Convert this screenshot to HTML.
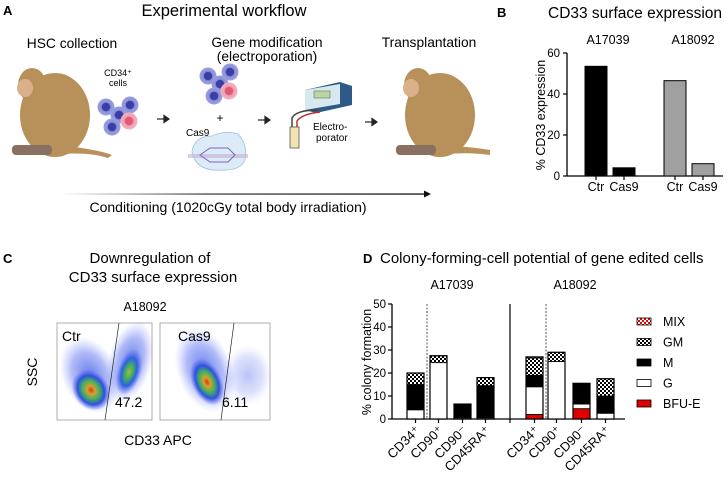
<!DOCTYPE html>
<html><head><meta charset="utf-8"><style>
html,body{margin:0;padding:0;background:#fff}
svg{display:block;font-family:"Liberation Sans",Arial,sans-serif}
</style></head><body>
<svg id="fig" width="726" height="480" viewBox="0 0 726 480" xmlns="http://www.w3.org/2000/svg">
<defs>
<pattern id="chk" width="4" height="4" patternUnits="userSpaceOnUse"><rect width="4" height="4" fill="#000"/><rect width="2" height="2" fill="#fff"/><rect x="2" y="2" width="2" height="2" fill="#fff"/></pattern>
<pattern id="chkr" width="4" height="4" patternUnits="userSpaceOnUse"><rect width="4" height="4" fill="#e00"/><rect width="2" height="2" fill="#fff"/><rect x="2" y="2" width="2" height="2" fill="#fff"/></pattern>
<radialGradient id="dens"><stop offset="0" stop-color="#d04010"/><stop offset="0.2" stop-color="#d8a030"/><stop offset="0.45" stop-color="#40b060"/><stop offset="0.7" stop-color="#3050e0"/><stop offset="1" stop-color="#6070f0" stop-opacity="0"/></radialGradient>
<radialGradient id="dens2"><stop offset="0" stop-color="#b0b040"/><stop offset="0.3" stop-color="#40b060"/><stop offset="0.6" stop-color="#3060e0"/><stop offset="1" stop-color="#6070f0" stop-opacity="0"/></radialGradient>
<radialGradient id="dens3"><stop offset="0" stop-color="#3050e0" stop-opacity="0.75"/><stop offset="0.6" stop-color="#5068f0" stop-opacity="0.45"/><stop offset="1" stop-color="#8090f8" stop-opacity="0"/></radialGradient>
<radialGradient id="cellB"><stop offset="0.45" stop-color="#3a3fa8"/><stop offset="0.55" stop-color="#8a90d8"/><stop offset="1" stop-color="#9aa0e0"/></radialGradient>
<radialGradient id="cellR"><stop offset="0.45" stop-color="#e05a78"/><stop offset="0.55" stop-color="#f0a0b0"/><stop offset="1" stop-color="#f4b0c0"/></radialGradient>
<linearGradient id="arrg" gradientUnits="userSpaceOnUse" x1="60" y1="0" x2="430" y2="0"><stop offset="0" stop-color="#fff"/><stop offset="0.4" stop-color="#444"/><stop offset="1" stop-color="#111"/></linearGradient>
</defs>

<!-- PANEL A -->
<g>
<text x="3" y="15" font-size="13" font-weight="bold">A</text>
<text x="224" y="16" font-size="16.5" text-anchor="middle">Experimental workflow</text>
<text x="72" y="48" font-size="13.8" text-anchor="middle">HSC collection</text>
<text x="267" y="47" font-size="13.8" text-anchor="middle">Gene modification</text>
<text x="267" y="61" font-size="13.8" text-anchor="middle">(electroporation)</text>
<text x="429" y="47" font-size="13.8" text-anchor="middle">Transplantation</text>
<g fill="#b8915a">
<ellipse cx="55" cy="115" rx="35" ry="42"/><ellipse cx="32" cy="85" rx="14" ry="17"/><ellipse cx="25" cy="88" rx="8" ry="9" fill="#d9b08a"/>
<path d="M60 145 Q100 150 112 155 L108 158 Q90 152 60 154 Z"/><rect x="12" y="145" width="40" height="10" rx="4" fill="#8a7060"/>
</g>
<g fill="#b8915a">
<ellipse cx="440" cy="115" rx="35" ry="42"/><ellipse cx="418" cy="85" rx="14" ry="17"/><ellipse cx="411" cy="88" rx="8" ry="9" fill="#d9b08a"/>
<path d="M445 145 Q480 148 490 150 L490 155 Q470 152 445 154 Z"/><rect x="396" y="145" width="40" height="10" rx="4" fill="#8a7060"/>
</g>
<text x="118" y="76" font-size="9" text-anchor="middle">CD34⁺</text>
<text x="118" y="86" font-size="9" text-anchor="middle">cells</text>
<g>
<circle cx="106" cy="107" r="8.5" fill="url(#cellB)"/><circle cx="130" cy="105" r="8.5" fill="url(#cellB)"/><circle cx="119" cy="115" r="8.5" fill="url(#cellB)"/><circle cx="112" cy="127" r="8.5" fill="url(#cellB)"/><circle cx="129" cy="121" r="8.5" fill="url(#cellR)"/>
</g>
<g>
<circle cx="208" cy="76" r="8.5" fill="url(#cellB)"/><circle cx="230" cy="72" r="8.5" fill="url(#cellB)"/><circle cx="220" cy="84" r="8.5" fill="url(#cellB)"/><circle cx="214" cy="96" r="8.5" fill="url(#cellB)"/><circle cx="229" cy="91" r="8.5" fill="url(#cellR)"/>
</g>
<text x="220" y="122" font-size="12" text-anchor="middle">+</text>
<path d="M192 152 Q194 136 212 136 Q225 130 238 134 Q248 145 245 160 Q240 171 222 170 Q196 172 192 152Z" fill="#dcebf8" stroke="#9cc0e0" stroke-width="0.8"/>
<rect x="188" y="154" width="60" height="4" fill="#c8b8d8" opacity="0.7"/>
<path d="M200 155 L210 148 L228 148 L235 155 L228 162 L210 162Z" fill="none" stroke="#8060c0" stroke-width="1"/>
<text x="186" y="136" font-size="10">Cas9</text>
<g stroke="#222" stroke-width="1.2">
<line x1="157" y1="119" x2="166" y2="119"/><path d="M164 115.5 L169 119 L164 122.5Z" fill="#222"/>
<line x1="258" y1="120" x2="267" y2="120"/><path d="M265 116.5 L270 120 L265 123.5Z" fill="#222"/>
<line x1="365" y1="122" x2="374" y2="122"/><path d="M372 118.5 L377 122 L372 125.5Z" fill="#222"/>
</g>
<g>
<path d="M305 90 L340 82 L352 86 L352 105 L316 113 L305 110Z" fill="#2d5a86"/>
<path d="M305 90 L340 84 L340 104 L305 110Z" fill="#d8e8f0"/><rect x="314" y="91" width="16" height="7" fill="#b8d8a0" stroke="#555" stroke-width="0.5"/>
<path d="M292 148 L292 118 Q296 110 318 110" fill="none" stroke="#444" stroke-width="1.5"/>
<path d="M297 148 L297 121 Q302 114 320 112" fill="none" stroke="#c03030" stroke-width="1.5"/>
<rect x="290" y="127" width="9" height="21" fill="#f2e4b0" stroke="#555" stroke-width="0.8"/>
</g>
<text x="313" y="130" font-size="10">Electro-</text>
<text x="316" y="141" font-size="10">porator</text>
<rect x="60" y="193.4" width="366" height="1.3" fill="url(#arrg)"/>
<path d="M424 190.5 L431 194 L424 197.5Z" fill="#111"/>
<text x="228" y="212" font-size="14" text-anchor="middle">Conditioning (1020cGy total body irradiation)</text>
</g>

<!-- PANEL B -->
<g>
<text x="497" y="17" font-size="13" font-weight="bold">B</text>
<text x="548" y="18" font-size="15.5">CD33 surface expression</text>
<text x="608" y="44" font-size="12.5" text-anchor="middle">A17039</text>
<text x="693" y="44" font-size="12.5" text-anchor="middle">A18092</text>
<text transform="translate(545,115) rotate(-90)" font-size="12.5" text-anchor="middle">% CD33 expression</text>
<g id="bAxis"></g><g id="bBars"></g>
</g>

<!-- PANEL C -->
<g>
<text x="3" y="263" font-size="13" font-weight="bold">C</text>
<text x="150" y="263" font-size="15" text-anchor="middle">Downregulation of</text>
<text x="153" y="282" font-size="15" text-anchor="middle">CD33 surface expression</text>
<text x="145" y="311" font-size="12.5" text-anchor="middle">A18092</text>
<text transform="translate(37,372) rotate(-90)" font-size="14" text-anchor="middle">SSC</text>
<text x="158" y="445" font-size="14" text-anchor="middle">CD33 APC</text>
<g>
<rect x="57" y="323" width="95" height="97" fill="#fff" stroke="#999" stroke-width="0.8"/>
<ellipse cx="90" cy="375" rx="28" ry="40" fill="url(#dens3)" transform="rotate(-25 90 375)"/>
<ellipse cx="91" cy="390" rx="18" ry="22" fill="url(#dens)" transform="rotate(-35 91 390)"/>
<ellipse cx="130" cy="362" rx="22" ry="42" fill="url(#dens3)" transform="rotate(15 130 362)"/>
<ellipse cx="129" cy="372" rx="12" ry="24" fill="url(#dens2)" transform="rotate(18 129 372)"/>
<line x1="119" y1="323" x2="105" y2="420" stroke="#222" stroke-width="0.7"/>
<text x="62" y="341" font-size="14">Ctr</text>
<text x="115" y="407" font-size="14">47.2</text>
</g>
<g>
<rect x="160" y="323" width="110" height="97" fill="#fff" stroke="#999" stroke-width="0.8"/>
<ellipse cx="205" cy="370" rx="28" ry="44" fill="url(#dens3)" transform="rotate(-20 205 370)"/>
<ellipse cx="207" cy="382" rx="15" ry="25" fill="url(#dens)" transform="rotate(-25 207 382)"/>
<ellipse cx="248" cy="375" rx="24" ry="30" fill="url(#dens3)" opacity="0.45"/>
<line x1="234" y1="323" x2="221" y2="420" stroke="#222" stroke-width="0.7"/>
<text x="178" y="341" font-size="14">Cas9</text>
<text x="222" y="407" font-size="14">6.11</text>
</g>
</g>

<!-- PANEL D -->
<g>
<text x="363" y="263" font-size="13" font-weight="bold">D</text>
<text x="380" y="263" font-size="15">Colony-forming-cell potential of gene edited cells</text>
<text x="452" y="289" font-size="12.5" text-anchor="middle">A17039</text>
<text x="575" y="289" font-size="12.5" text-anchor="middle">A18092</text>
<text transform="translate(371,362) rotate(-90)" font-size="12.5" text-anchor="middle">% colony formation</text>
<g id="dAxis"></g><g id="dBars"></g><g id="dLegend"></g>
</g>
</svg>
<script>
const NS='http://www.w3.org/2000/svg';
function mk(p,t,a){const e=document.createElementNS(NS,t);for(const k in a)e.setAttribute(k,a[k]);p.appendChild(e);return e;}

// ---- Panel B data
const bCats=['Ctr','Cas9','Ctr','Cas9'];
const bVals=[53.5,4,46.5,6];
const bColors=['#000','#000','#a0a0a0','#a0a0a0'];
const bTicks=[0,20,40,60];
const bX0=[585,613,664,692];
const bY=v=>176-v*(123/60);
(function(){
 const ax=document.getElementById('bAxis'),bg=document.getElementById('bBars');
 let l=mk(ax,'line',{x1:567,y1:53,x2:567,y2:176,stroke:'#000','stroke-width':1.3});
 
 
 let xl=mk(ax,'line',{x1:567,y1:176,x2:723,y2:176,stroke:'#000','stroke-width':1.3});
 
 
 bTicks.forEach(t=>{const y=bY(t);mk(ax,'line',{x1:563,y1:y,x2:567,y2:y,stroke:'#000','stroke-width':1.2});
  const tx=mk(ax,'text',{x:560,y:y+4,'font-size':11.5,'text-anchor':'end'});tx.textContent=t;
  
  });
 bVals.forEach((v,i)=>{const x=bX0[i];
  const r=mk(bg,'rect',{x:x,y:bY(v),width:22,height:176-bY(v),fill:bColors[i],stroke:'#000','stroke-width':1});
  
  
  mk(ax,'line',{x1:x+11,y1:176,x2:x+11,y2:180,stroke:'#000','stroke-width':1.2});
  const tx=mk(ax,'text',{x:x+11,y:191,'font-size':12.5,'text-anchor':'middle'});tx.textContent=bCats[i];
  
  });
})();

// ---- Panel D data
const dCats=['CD34⁺','CD90⁺','CD90⁻','CD45RA⁺','CD34⁺','CD90⁺','CD90⁻','CD45RA⁺'];
const dBFUE=[0,0,0,0,2,0,4.5,0];
const dG=[4,24.5,0.5,0.5,12,25,2,2.5];
const dM=[11,0,6,14,5,0,9,7.5];
const dGM=[5,3,0,3.5,7.5,4,0,7.5];
const dMIX=[0,0,0,0,0.5,0,0,0];
const dTicks=[0,10,20,30,40,50];
const dX0=[407,430,454,477,526,548,573,597];
const dY=v=>419-v*2.3;
(function(){
 const ax=document.getElementById('dAxis'),bg=document.getElementById('dBars'),lg=document.getElementById('dLegend');
 let l=mk(ax,'line',{x1:392,y1:304,x2:392,y2:419,stroke:'#000','stroke-width':1.3});
 
 
 let xl=mk(ax,'line',{x1:392,y1:419,x2:625,y2:419,stroke:'#000','stroke-width':1.3});
 
 
 let sp=mk(ax,'line',{x1:510,y1:304,x2:510,y2:423,stroke:'#000','stroke-width':1.2});
 
 
 [427,546].forEach(x=>{const d=mk(ax,'line',{x1:x,y1:304,x2:x,y2:419,stroke:'#555','stroke-width':1,'stroke-dasharray':'2,1.5'});
  
  });
 dTicks.forEach(t=>{const y=dY(t);mk(ax,'line',{x1:388,y1:y,x2:392,y2:y,stroke:'#000','stroke-width':1.2});
  const tx=mk(ax,'text',{x:386,y:y+4,'font-size':11.5,'text-anchor':'end'});tx.textContent=t;
  
  });
 const series=[[dBFUE,'#e00000'],[dG,'#fff'],[dM,'#000'],[dGM,'url(#chk)'],[dMIX,'url(#chkr)']];
 dCats.forEach((c,i)=>{const x=dX0[i];let base=0;
  series.forEach(([arr,fill],s)=>{const v=arr[i];if(v<=0)return;
   const r=mk(bg,'rect',{x:x,y:dY(base+v),width:17,height:v*2.3,fill:fill,stroke:'#000','stroke-width':0.8});
   
   
   base+=v;});
  const ol=mk(bg,'rect',{x:x,y:dY(base),width:17,height:base*2.3,fill:'none',stroke:'#000','stroke-width':1.2});
  
  
  mk(ax,'line',{x1:x+8.5,y1:419,x2:x+8.5,y2:423,stroke:'#000','stroke-width':1.2});
  const tx=mk(ax,'text',{x:0,y:0,'font-size':13,'text-anchor':'end',transform:'translate('+(x+14)+',431) rotate(-45)'});tx.textContent=c;
  
  });
 const legN=['MIX','GM','M','G','BFU-E'],legF=['url(#chkr)','url(#chk)','#000','#fff','#e00000'];
 legN.forEach((n,i)=>{const y=318+i*20.5;
  const r=mk(lg,'rect',{x:637,y:y,width:14,height:7,fill:legF[i],stroke:'#000','stroke-width':0.8});
  
  
  const t=mk(lg,'text',{x:663,y:y+8,'font-size':12.5});t.textContent=n;
  
  });
})();
</script>
</body></html>
